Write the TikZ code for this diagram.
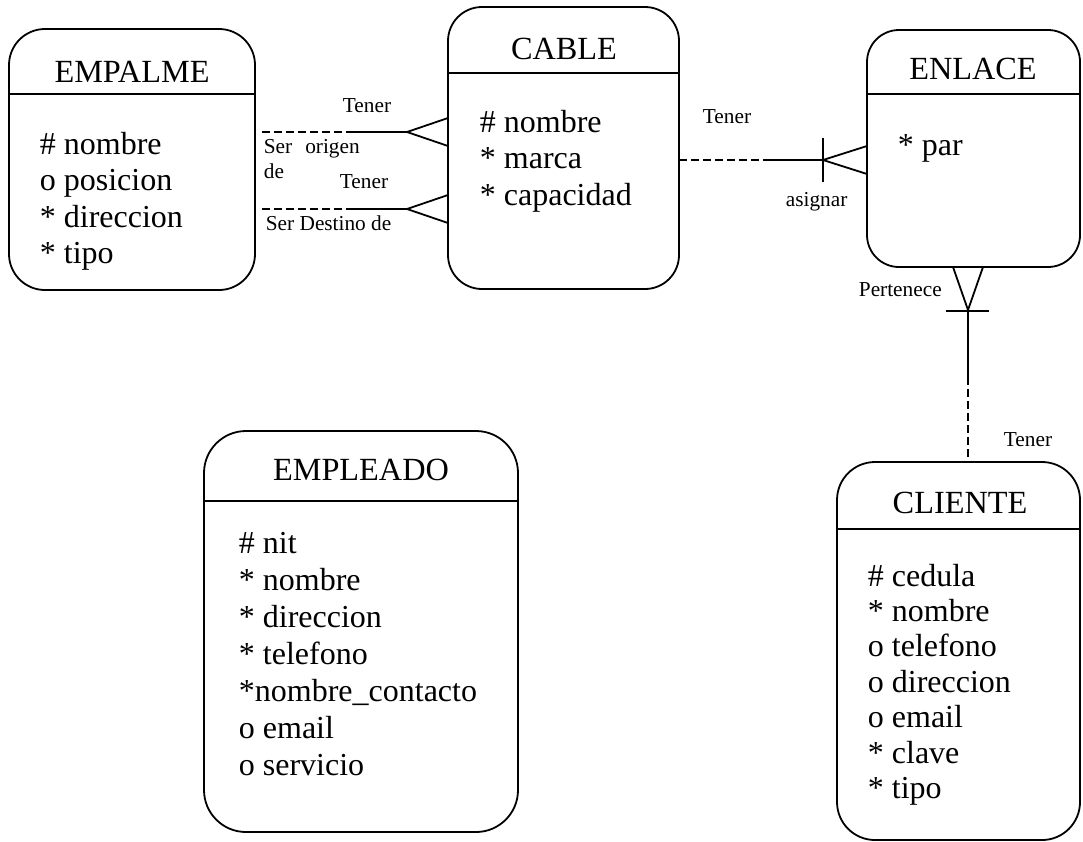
\documentclass[tikz,border=0pt]{standalone}
\usepackage{fontspec}
\setmainfont{Liberation Serif}
\usetikzlibrary{calc}
\begin{document}
\begin{tikzpicture}[x=1pt,y=-1pt,line width=1.8pt,
  entity/.style={draw, inner sep=0pt, outer sep=0pt, anchor=north west},
  ttl/.style={font=\fontsize{32.3}{37}\selectfont, anchor=base, inner sep=0pt},
  attr/.style={font=\fontsize{32}{37}\selectfont, anchor=base west, inner sep=0pt},
  lbl/.style={font=\fontsize{21.3}{25}\selectfont, anchor=base west, inner sep=0pt},
  lblc/.style={font=\fontsize{21.3}{25}\selectfont, anchor=base, inner sep=0pt},
  rel/.style={line width=1.8pt},
  opt/.style={line width=1.8pt, dash pattern=on 8pt off 4pt}]
\useasboundingbox (0,0) rectangle (1083,841);

% ---------- entities ----------
\node[entity, rounded corners=36pt, minimum width=246pt, minimum height=261pt] (empalme) at (9,29) {};
\node[entity, rounded corners=34pt, minimum width=231pt, minimum height=282pt] (cable) at (448,7) {};
\node[entity, rounded corners=32pt, minimum width=213pt, minimum height=237pt] (enlace) at (867,30) {};
\node[entity, rounded corners=42pt, minimum width=314pt, minimum height=401pt] (empleado) at (204,431) {};
\node[entity, rounded corners=38pt, minimum width=243pt, minimum height=378pt] (cliente) at (837,462) {};

% header separators
\draw (empalme.west |- 0,94) -- (empalme.east |- 0,94);
\draw (cable.west |- 0,73) -- (cable.east |- 0,73);
\draw (enlace.west |- 0,94) -- (enlace.east |- 0,94);
\draw (empleado.west |- 0,501) -- (empleado.east |- 0,501);
\draw (cliente.west |- 0,529) -- (cliente.east |- 0,529);

% titles
\node[ttl] (empalmeT) at (132,82) {EMPALME};
\node[ttl] (cableT) at (564,59) {CABLE};
\node[ttl] (enlaceT) at (973,79) {ENLACE};
\node[ttl] (empleadoT) at (361,480) {EMPLEADO};
\node[ttl] (clienteT) at (960,513) {CLIENTE};

% attributes
\foreach \t [count=\i] in {\# nombre, o posicion, * direccion, * tipo}
  \node[attr] (empalme-a\i) at (39,{154+36.5*(\i-1)}) {\t};
\foreach \t [count=\i] in {\# nombre, * marca, * capacidad}
  \node[attr] (cable-a\i) at (479,{132+36.5*(\i-1)}) {\t};
\node[attr] (enlace-a1) at (897,155) {* par};
\foreach \t [count=\i] in {\# nit, * nombre, * direccion, * telefono, *nombre\_contacto, o email, o servicio}
  \node[attr] (empleado-a\i) at (238,{553+37*(\i-1)}) {\t};
\foreach \t [count=\i] in {\# cedula, * nombre, o telefono, o direccion, o email, * clave, * tipo}
  \node[attr] (cliente-a\i) at (867,{586+35.4*(\i-1)}) {\t};

% ---------- EMPALME -- CABLE (origen) ----------
\coordinate (o1) at (262,132);
\coordinate (o2) at (348,132);
\coordinate (o3) at (407,132);
\draw[opt] (o1) -- (o2);
\draw[rel] (o2) -- (o3) -- (cable.west |- 0,118) (o3) -- (cable.west |- 0,146);

% ---------- EMPALME -- CABLE (destino) ----------
\coordinate (d1) at (262,209);
\coordinate (d2) at (348,209);
\coordinate (d3) at (407,209);
\draw[opt] (d1) -- (d2);
\draw[rel] (d2) -- (d3) -- (cable.west |- 0,195) (d3) -- (cable.west |- 0,223);

\node[lblc] (l1) at (367,112) {Tener};
\node[lbl] (l2) at (263,153) {Ser\hspace{13pt}origen};
\node[lbl] (l3) at (263,178) {de};
\node[lblc] (l4) at (364,188) {Tener};
\node[lbl] (l5) at (265,230) {Ser Destino de};

% ---------- CABLE -- ENLACE ----------
\coordinate (a2) at (765,160);
\coordinate (a3) at (823,160);
\draw[opt] (cable.east |- a2) -- (a2);
\draw[rel] (a2) -- (a3) -- (enlace.west |- 0,146) (a3) -- (enlace.west |- 0,174);
\draw[rel] (823,138) -- (823,182);
\node[lbl] (l6) at (702,123) {Tener};
\node[lbl] (l7) at (785,206) {asignar};

% ---------- ENLACE -- CLIENTE ----------
\coordinate (p0) at (968,310);
\coordinate (p1) at (968,377);
\draw[rel] (enlace.south -| 953,0) -- (p0) -- (enlace.south -| 983,0);
\draw[rel] (946,311) -- (989,311);
\draw[rel] (p0) -- (p1);
\draw[opt] (p1) -- (p1 |- cliente.north);
\node[lbl] (l8) at (858,296) {Pertenece};
\node[lbl] (l9) at (1003,446) {Tener};
\end{tikzpicture}
\end{document}
